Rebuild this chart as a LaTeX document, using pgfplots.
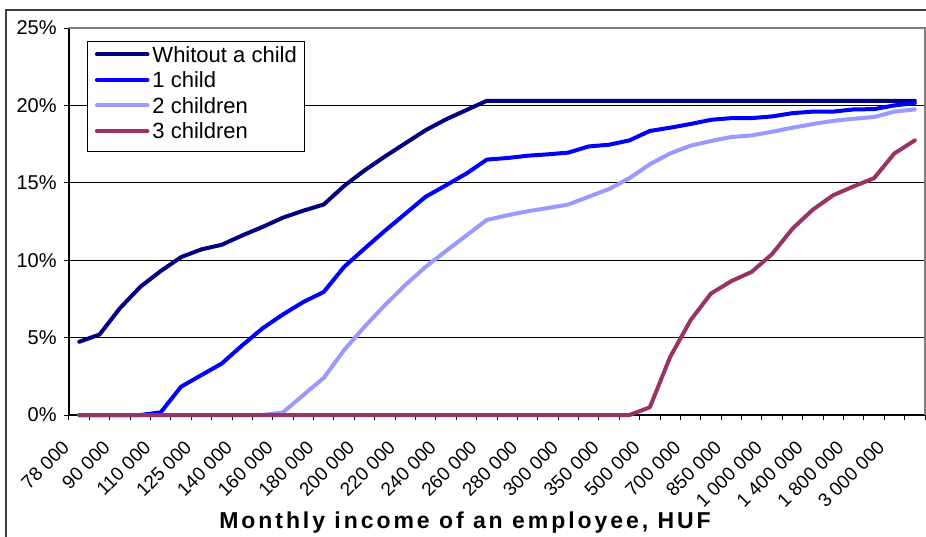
\documentclass[border=0pt]{standalone}
\usepackage{fontspec}
\setmainfont{Liberation Sans}
\usepackage{pgfplots}
\usepackage{pgfplotstable}
\pgfplotsset{compat=1.18}
\definecolor{sNavy}{HTML}{000080}
\definecolor{sBlue}{HTML}{0000FF}
\definecolor{sLight}{HTML}{9999FF}
\definecolor{sPlum}{HTML}{993366}
\definecolor{borderGray}{HTML}{808080}
\definecolor{frameGray}{HTML}{404040}

\pgfplotstableread{
x a b c d
0 4.73 0 0 0
1 5.2 0 0 0
2 6.9 0 0 0
3 8.28 0 0 0
4 9.3 0.17 0 0
5 10.2 1.83 0 0
6 10.7 2.58 0 0
7 11.0 3.33 0 0
8 11.6 4.5 0 0
9 12.15 5.6 0 0
10 12.75 6.5 0.17 0
11 13.2 7.3 1.29 0
12 13.6 7.95 2.4 0
13 14.8 9.57 4.2 0
14 15.8 10.75 5.7 0
15 16.7 11.9 7.1 0
16 17.55 13.0 8.4 0
17 18.4 14.1 9.57 0
18 19.1 14.84 10.6 0
19 19.7 15.6 11.6 0
20 20.3 16.5 12.6 0
21 20.3 16.6 12.9 0
22 20.3 16.75 13.16 0
23 20.3 16.84 13.37 0
24 20.3 16.95 13.6 0
25 20.3 17.35 14.1 0
26 20.3 17.46 14.6 0
27 20.3 17.74 15.3 0
28 20.3 18.35 16.2 0.5
29 20.3 18.56 16.9 3.76
30 20.3 18.8 17.4 6.13
31 20.3 19.07 17.7 7.85
32 20.3 19.18 17.96 8.65
33 20.3 19.18 18.06 9.25
34 20.3 19.29 18.3 10.4
35 20.3 19.5 18.56 12.04
36 20.3 19.6 18.8 13.27
37 20.3 19.6 19.0 14.2
38 20.3 19.74 19.14 14.77
39 20.3 19.76 19.25 15.3
40 20.3 20.0 19.6 16.9
41 20.3 20.15 19.74 17.74
}\data

\begin{document}
\begin{tikzpicture}
\begin{axis}[
  scale only axis, width=428pt, height=193.5pt,
  xmin=-0.5, xmax=41.5, ymin=0, ymax=25,
  clip=false,
  axis x line*=bottom, axis y line*=left,
  axis line style={black, line width=0.6pt},
  ytick={0,5,10,15,20,25},
  yticklabels={0\%,5\%,10\%,15\%,20\%,25\%},
  ymajorgrids, grid style={black, line width=0.5pt},
  xtick={0,2,...,40},
  xticklabels={78 000,90 000,110 000,125 000,140 000,160 000,180 000,200 000,220 000,240 000,260 000,280 000,300 000,350 000,500 000,700 000,850 000,1 000 000,1 400 000,1 800 000,3 000 000},
  major x tick style={draw=none},
  minor xtick={-0.5,0.5,...,41.5},
  tick align=outside, major tick length=2.5pt, minor tick length=2.5pt,
  tick style={black, line width=0.5pt},
  xticklabel style={font=\fontsize{9.5}{11}\selectfont, inner sep=0pt, anchor=east, xshift=-6.6pt, yshift=-12pt, rotate=45},
  yticklabel style={font=\fontsize{10}{12}\selectfont, inner sep=0pt, anchor=east, xshift=-3.5pt},
  xlabel={Monthly income of an employee, HUF},
  xlabel style={at={(axis description cs:0.4626,0)}, anchor=base, yshift=-56.65pt, inner sep=0pt, font=\fontsize{11.5}{13}\selectfont\bfseries\addfontfeature{LetterSpace=12.8}},
  legend cell align=left,
  legend style={at={(0,1)}, anchor=north west, xshift=8.85pt, yshift=-6.35pt,
    draw=black, line width=0.5pt, fill=white, font=\fontsize{11}{13}\selectfont,
    inner xsep=3.85pt, inner ysep=2.65pt, row sep=1.3pt, column sep=1.5pt,
    nodes={inner sep=0pt, text height=7.9pt, text depth=3.55pt}},
  legend image code/.code={
    \path (0pt,1.75pt) -- (3.8pt,1.75pt);
    \draw[#1, line width=2pt, line cap=round] (3.8pt,1.75pt) -- (25.3pt,1.75pt);},
  every axis plot/.append style={line width=2pt, line join=round, line cap=round},
]
\addplot[color=sNavy] table[x=x, y=a] {\data};
\addplot[color=sBlue] table[x=x, y=b] {\data};
\addplot[color=sLight] table[x=x, y=c] {\data};
\addplot[color=sPlum] table[x=x, y=d] {\data};
\legend{Whitout a child, 1 child, 2 children, 3 children}
\draw[color=borderGray, line width=0.6pt] (rel axis cs:0,1) -- (rel axis cs:1,1) -- (rel axis cs:1,0);
\end{axis}
\draw[color=frameGray, line width=0.6pt] ([shift={(-31.5pt,-61pt)}]current axis.south west) -- ([shift={(-31.5pt,9pt)}]current axis.north west) -- ([shift={(1pt,9pt)}]current axis.north east);
\pgfresetboundingbox
\path ([shift={(-34.5pt,-60.5pt)}]current axis.south west) rectangle ([shift={(0.5pt,14pt)}]current axis.north east);
\end{tikzpicture}
\end{document}
